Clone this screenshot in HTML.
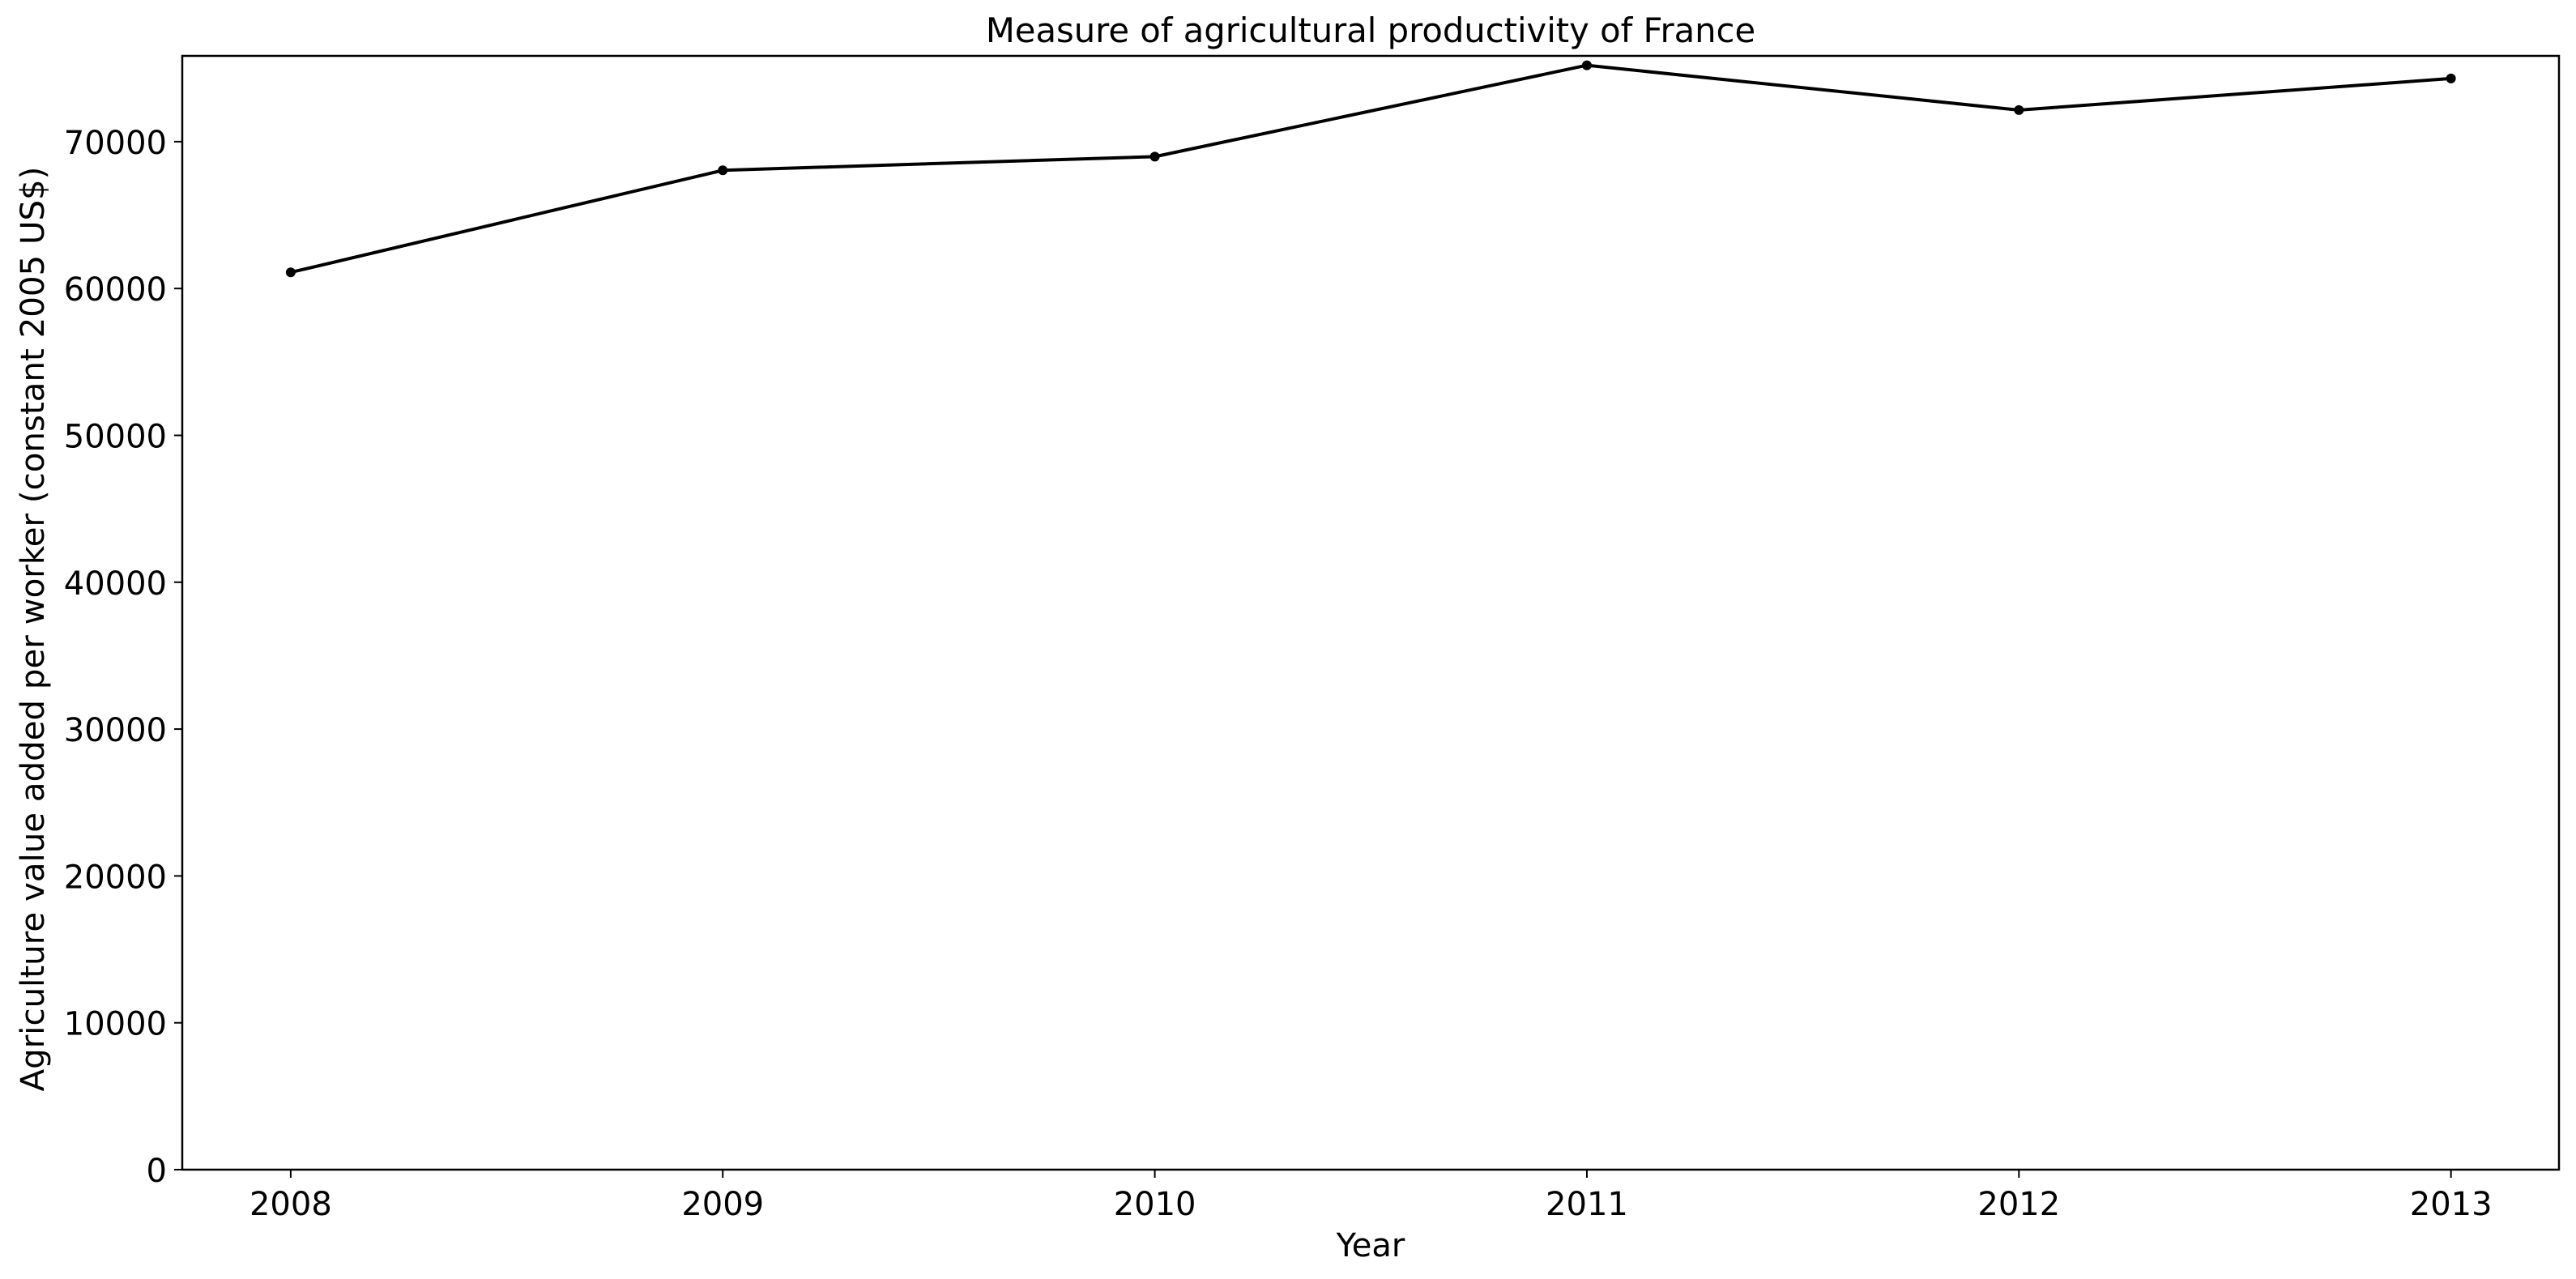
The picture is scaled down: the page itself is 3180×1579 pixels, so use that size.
<!DOCTYPE html>
<html><head><meta charset="utf-8"><style>
html,body{margin:0;padding:0;background:#fff;}
svg{display:block;font-family:"DejaVu Sans","Liberation Sans",sans-serif;}
</style></head><body>
<svg id="chart" width="3180" height="1579" viewBox="0 0 3180 1579" xmlns="http://www.w3.org/2000/svg"></svg>
<script>
const years = [2008, 2009, 2010, 2011, 2012, 2013];
const values = [61100, 68050, 68980, 75200, 72150, 74300];
const yTicks = [0, 10000, 20000, 30000, 40000, 50000, 60000, 70000];
const xTicks = [2008, 2009, 2010, 2011, 2012, 2013];

const L = 225, R = 3159, T = 69, B = 1444;
const xMin = 2007.749, xMax = 2013.25, yMin = 0, yMax = 75840;
const sx = v => L + (v - xMin) / (xMax - xMin) * (R - L);
const sy = v => B - (v - yMin) / (yMax - yMin) * (B - T);
const svg = document.getElementById('chart');
const NS = 'http://www.w3.org/2000/svg';
function mk(tag, attrs, parent) {
  const e = document.createElementNS(NS, tag);
  for (const k in attrs) e.setAttribute(k, attrs[k]);
  (parent || svg).appendChild(e);
  return e;
}

const title = mk('text', {x: (L + R) / 2, y: 52, 'text-anchor': 'middle', 'font-size': 41.7, fill: '#000'});


title.textContent = 'Measure of agricultural productivity of France';

const xTitle = mk('text', {x: (L + R) / 2, y: 1551, 'text-anchor': 'middle', 'font-size': 40, fill: '#000'});


xTitle.textContent = 'Year';

const yTitle = mk('text', {x: 0, y: 0, 'text-anchor': 'middle', 'font-size': 40.3, fill: '#000', transform: 'translate(54,' + ((T + B) / 2 + 20) + ') rotate(-90)'});


yTitle.textContent = 'Agriculture value added per worker (constant 2005 US$)';

yTicks.forEach(v => {
  const g = mk('g', {});
  
  
  mk('line', {x1: L - 10, x2: L, y1: sy(v), y2: sy(v), stroke: '#000', 'stroke-width': 2}, g);
  const t = mk('text', {x: L - 19, y: sy(v) + 15, 'text-anchor': 'end', 'font-size': 40, fill: '#000'}, g);
  t.textContent = v;
});
xTicks.forEach(v => {
  const g = mk('g', {});
  
  
  mk('line', {x1: sx(v), x2: sx(v), y1: B, y2: B + 10, stroke: '#000', 'stroke-width': 2}, g);
  const t = mk('text', {x: sx(v), y: B + 56, 'text-anchor': 'middle', 'font-size': 40, fill: '#000'}, g);
  t.textContent = v;
});

const frame = mk('rect', {x: L, y: T, width: R - L, height: B - T, fill: 'none', stroke: '#000', 'stroke-width': 2.5});



const pts = years.map((y, i) => sx(y) + ',' + sy(values[i])).join(' ');
const line = mk('polyline', {points: pts, fill: 'none', stroke: '#000', 'stroke-width': 4, 'stroke-linejoin': 'round'});



years.forEach((y, i) => {
  const c = mk('circle', {cx: sx(y), cy: sy(values[i]), r: 6, fill: '#000'});
  
  
});
</script>
</body></html>
